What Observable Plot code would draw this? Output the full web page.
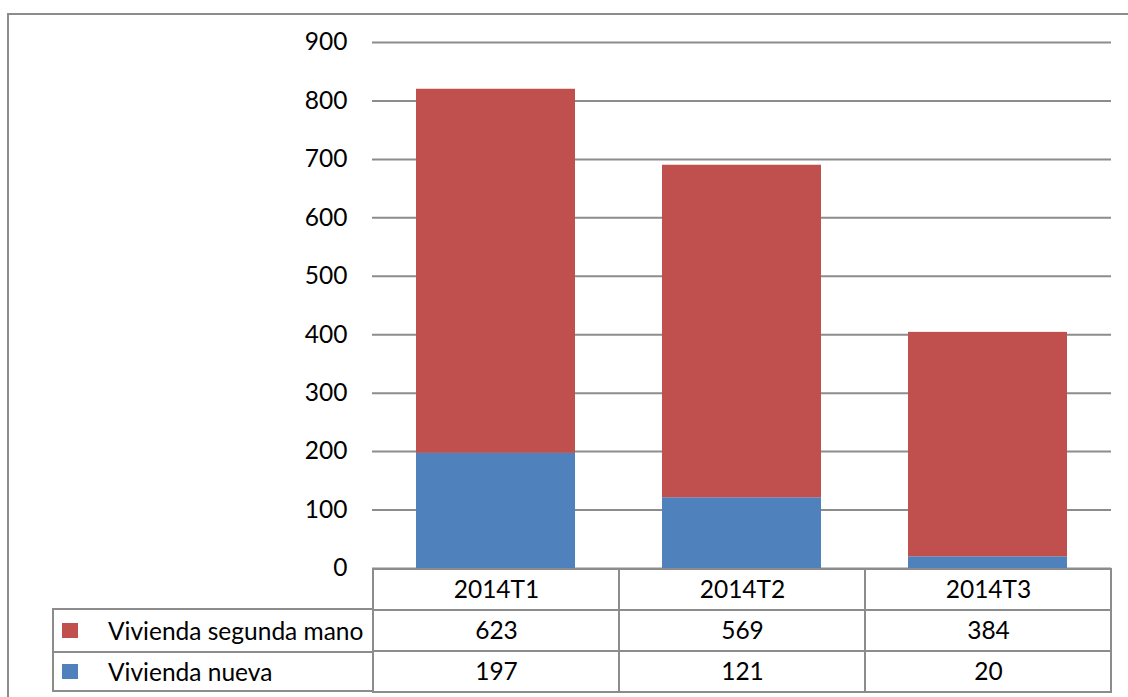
<!DOCTYPE html>
<html>
<head>
<meta charset="utf-8">
<script src="https://cdn.jsdelivr.net/npm/d3@7"></script>
<script src="https://cdn.jsdelivr.net/npm/@observablehq/plot@0.6"></script>
<style>
  html, body { margin: 0; padding: 0; background: #fff; }
  #wrap { position: relative; width: 1128px; height: 697px; overflow: hidden; font-family: Lato, "Open Sans", sans-serif; }
  #frame { position: absolute; left: 7px; top: 13px; width: 1200px; height: 800px; border-left: 2px solid #8c8c8c; border-top: 2px solid #8c8c8c; box-sizing: border-box; }
  #chart, #table { position: absolute; left: 0; }
  #chart { top: 0; }
  #table { top: 568px; }
  #legend { position: absolute; left: 52px; top: 608px; width: 322px; height: 84px; border: 2px solid #8c8c8c; box-sizing: border-box; }
  .lrow { position: absolute; left: 0; width: 100%; height: 41px; display: flex; align-items: center; font-size: 24.5px; color: #000; }
  .lrow .sw { width: 16px; height: 15px; margin-left: 8px; margin-right: 30px; }
</style>
</head>
<body>
<div id="wrap">
  <div id="frame"></div>
  <div id="chart"></div>
  <div id="table"></div>
  <div id="legend"></div>
</div>
<script>
const categories = ["2014T1", "2014T2", "2014T3"];
const series = ["Vivienda segunda mano", "Vivienda nueva"];
const segundaMano = [623, 569, 384];
const nueva = [197, 121, 20];
const yTicks = [0, 100, 200, 300, 400, 500, 600, 700, 800, 900];
const colors = ["#C0504D", "#4F81BD"];

const gridColor = "#8c8c8c";

// stacked data: nueva at bottom, segunda mano on top
const data = categories.flatMap((c, i) => [
  {cat: c, serie: series[1], value: nueva[i], order: 0},
  {cat: c, serie: series[0], value: segundaMano[i], order: 1}
]);

const chart = Plot.plot({
  width: 1128,
  height: 569,
  marginTop: 42,
  marginBottom: 1,
  marginLeft: 372,
  marginRight: 17,
  style: {fontFamily: "Lato, 'Open Sans', sans-serif", fontSize: "24.5px", color: "#000", background: "transparent", overflow: "visible"},
  x: {domain: categories, paddingInner: 0.354, paddingOuter: 0.177, axis: null},
  y: {domain: [0, 900], ticks: yTicks, label: null},
  color: {domain: series, range: colors},
  marks: [
    Plot.ruleY(yTicks, {stroke: gridColor, strokeWidth: 2, strokeOpacity: 1}),
    Plot.barY(data, Plot.stackY({x: "cat", y: "value", fill: "serie", order: "order"})),
    Plot.ruleX([0], {frameAnchor: "left", y1: 0, y2: 900, stroke: gridColor, strokeWidth: 2}),
    Plot.axisY({ticks: yTicks, tickSize: 0, tickPadding: 25, tickFormat: d => String(d), fill: "#000", label: null})
  ]
});
document.getElementById("chart").appendChild(chart);

// data table below the chart
const rows = ["cat", "seg", "nue"];
const tableData = categories.flatMap((c, i) => [
  {cat: c, row: "cat", label: c},
  {cat: c, row: "seg", label: String(segundaMano[i])},
  {cat: c, row: "nue", label: String(nueva[i])}
]);

const table = Plot.plot({
  width: 1128,
  height: 125,
  marginTop: 0,
  marginBottom: 1,
  marginLeft: 372,
  marginRight: 17,
  style: {fontFamily: "Lato, 'Open Sans', sans-serif", fontSize: "24.5px", color: "#000", background: "transparent", overflow: "visible"},
  x: {domain: categories, padding: 0, axis: null},
  y: {domain: rows, padding: 0, axis: null},
  marks: [
    Plot.cell(tableData, {x: "cat", y: "row", fill: "none", stroke: gridColor, strokeWidth: 2}),
    Plot.text(tableData, {x: "cat", y: "row", text: "label", fill: "#000", fontSize: 24.5})
  ]
});
document.getElementById("table").appendChild(table);

// legend column of the data table
const legend = document.getElementById("legend");
series.forEach((s, i) => {
  const r = document.createElement("div");
  r.className = "lrow";
  r.style.top = (i * 41) + "px";
  if (i === 0) r.style.borderBottom = "2px solid " + gridColor;
  const sw = document.createElement("div");
  sw.className = "sw";
  sw.style.background = colors[i];
  const t = document.createElement("span");
  t.textContent = s;
  r.appendChild(sw);
  r.appendChild(t);
  legend.appendChild(r);
});
</script>
</body>
</html>
